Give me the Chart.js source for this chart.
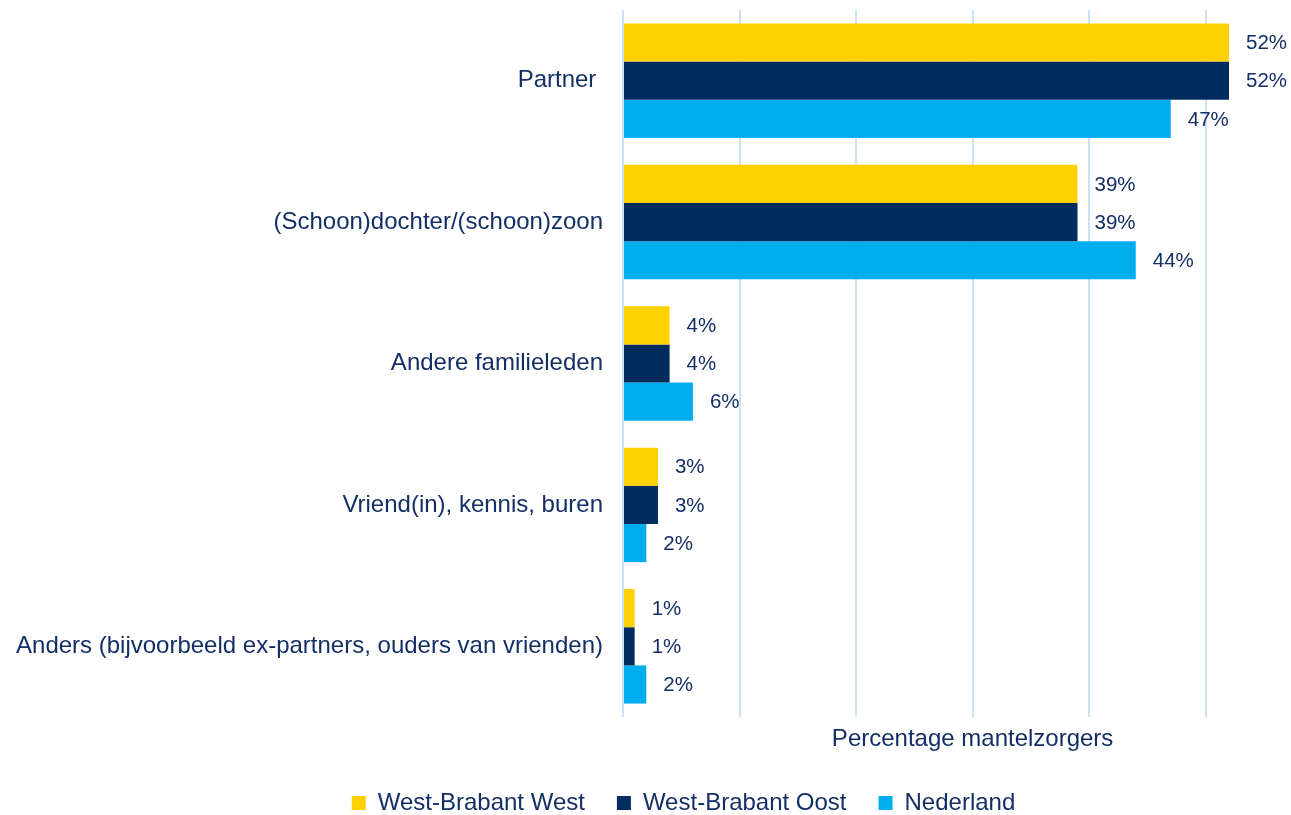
<!DOCTYPE html>
<html>
<head>
<meta charset="utf-8">
<script src="https://cdn.jsdelivr.net/npm/chart.js@4.4.1/dist/chart.umd.min.js"></script>
<style>
  html, body { margin: 0; padding: 0; background: #fff; }
  #wrap { width: 1291px; height: 815px; position: relative; }
</style>
</head>
<body>
<div id="wrap"><canvas id="mantelzorg-chart"></canvas></div>
<script>
const categories = [
  'Partner ',
  '(Schoon)dochter/(schoon)zoon',
  'Andere familieleden',
  'Vriend(in), kennis, buren',
  'Anders (bijvoorbeeld ex-partners, ouders van vrienden)'
];
const seriesNames = ['West-Brabant West', 'West-Brabant Oost', 'Nederland'];
const westBrabantWest = [52, 39, 4, 3, 1];
const westBrabantOost = [52, 39, 4, 3, 1];
const nederland = [47, 44, 6, 2, 2];
const xTicks = [0, 10, 20, 30, 40, 50];
const axisTitle = 'Percentage mantelzorgers';

const textColor = '#142f66';
const fontFamily = '"Liberation Sans", Arial, sans-serif';

// Data labels next to each bar
const valueLabels = {
  id: 'valueLabels',
  afterDatasetsDraw(chart) {
    const ctx = chart.ctx;
    ctx.save();
    ctx.font = '20.5px ' + fontFamily;
    ctx.fillStyle = textColor;
    ctx.textBaseline = 'middle';
    ctx.textAlign = 'left';
    chart.data.datasets.forEach((ds, i) => {
      chart.getDatasetMeta(i).data.forEach((bar, j) => {
        ctx.fillText(ds.data[j] + '%', bar.x + 17, bar.y + 1);
      });
    });
    ctx.restore();
  }
};

// Axis title, placed under the 30% gridline like the original
const xAxisTitle = {
  id: 'xAxisTitle',
  afterDraw(chart) {
    const ctx = chart.ctx;
    const x = chart.scales.x.getPixelForValue(30);
    ctx.save();
    ctx.font = '24px ' + fontFamily;
    ctx.fillStyle = textColor;
    ctx.textAlign = 'center';
    ctx.textBaseline = 'middle';
    ctx.fillText(axisTitle, x, chart.chartArea.bottom + 22);
    ctx.restore();
  }
};

// Legend sits a bit right of centre in the original
const legendShift = {
  id: 'legendShift',
  afterLayout(chart) {
    chart.legend.left += 69;
    chart.legend.right += 69;
  }
};

new Chart(document.getElementById('mantelzorg-chart'), {
  type: 'bar',
  data: {
    labels: categories,
    datasets: [
      { label: seriesNames[0], data: westBrabantWest, backgroundColor: '#FFD100' },
      { label: seriesNames[1], data: westBrabantOost, backgroundColor: '#002D5E' },
      { label: seriesNames[2], data: nederland, backgroundColor: '#00AEEF' }
    ]
  },
  options: {
    indexAxis: 'y',
    responsive: true,
    maintainAspectRatio: false,
    animation: false,
    datasets: {
      bar: { categoryPercentage: 0.81, barPercentage: 1.0, borderWidth: 0 }
    },
    layout: {
      padding: { top: 10, right: 62, bottom: -10, left: 0 }
    },
    scales: {
      x: {
        min: 0,
        max: 52,
        afterBuildTicks(scale) {
          scale.ticks = xTicks.map(v => ({ value: v }));
        },
        afterFit(scale) {
          scale.height = 42;
          scale.paddingLeft = 0;
          scale.paddingRight = 0;
        },
        ticks: { display: false },
        grid: { color: '#cce0f6', lineWidth: 2, drawTicks: false },
        border: { display: false }
      },
      y: {
        afterFit(scale) {
          scale.width = 623;
          scale.paddingTop = 0;
          scale.paddingBottom = 0;
        },
        ticks: {
          color: textColor,
          padding: 20,
          font: { family: fontFamily, size: 24 }
        },
        grid: { display: false, drawTicks: false },
        border: { display: false }
      }
    },
    plugins: {
      legend: {
        position: 'bottom',
        labels: {
          color: textColor,
          boxWidth: 14,
          boxHeight: 14,
          padding: 32,
          font: { family: fontFamily, size: 24 }
        }
      },
      tooltip: { enabled: false }
    }
  },
  plugins: [valueLabels, xAxisTitle, legendShift]
});
</script>
</body>
</html>
